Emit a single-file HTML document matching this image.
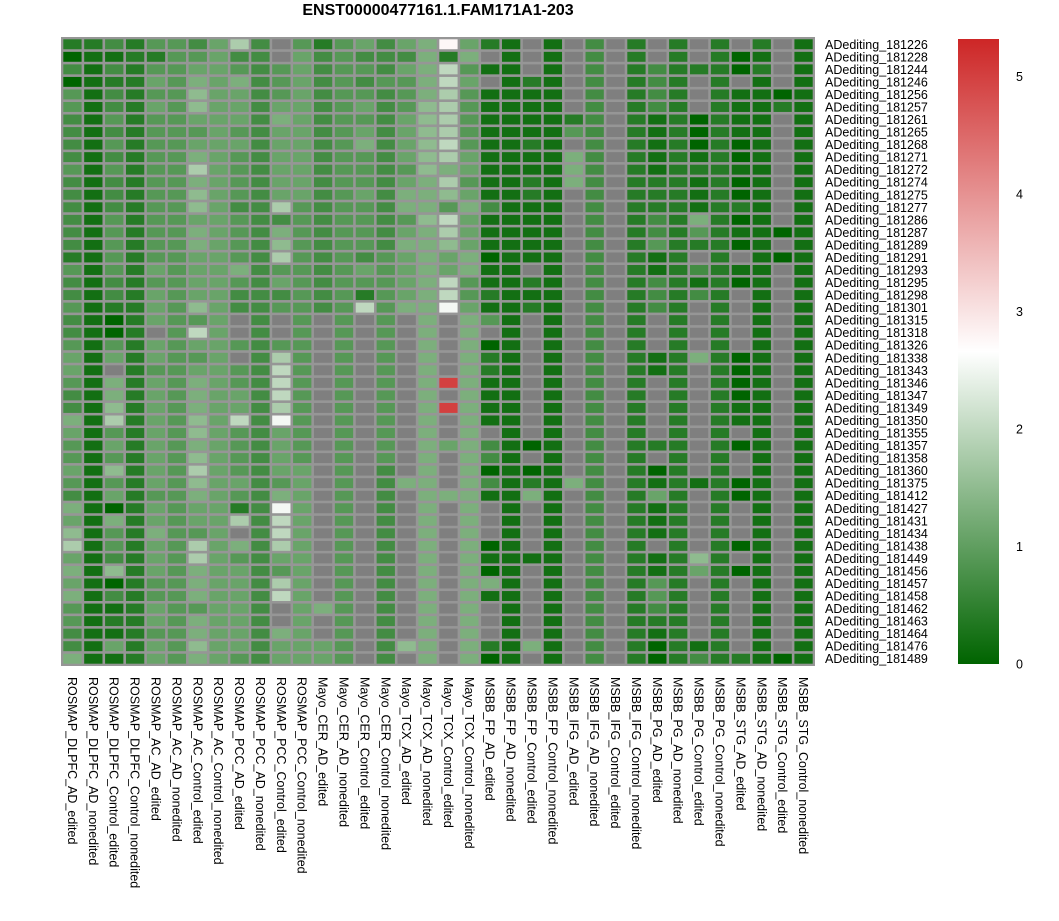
<!DOCTYPE html>
<html><head><meta charset="utf-8"><style>
body{margin:0;background:#fff;font-family:"Liberation Sans",sans-serif}
</style></head><body>
<svg id="chart" width="1059" height="916" xmlns="http://www.w3.org/2000/svg" font-family="Liberation Sans, sans-serif">
<defs><linearGradient id="lg" x1="0" y1="1" x2="0" y2="0">
<stop offset="0" stop-color="#006400"/><stop offset="0.5" stop-color="#ffffff"/><stop offset="1" stop-color="#cd2626"/></linearGradient></defs>
<text x="438" y="15" text-anchor="middle" font-size="16" font-weight="bold">ENST00000477161.1.FAM171A1-203</text>
<g id="cells"></g><g id="rowlabels"></g><g id="collabels"></g>
<rect x="958" y="39" width="41" height="625" fill="url(#lg)"/>
<g id="legendticks"></g>
</svg>
<script>
const columns=["ROSMAP_DLPFC_AD_edited","ROSMAP_DLPFC_AD_nonedited","ROSMAP_DLPFC_Control_edited","ROSMAP_DLPFC_Control_nonedited","ROSMAP_AC_AD_edited","ROSMAP_AC_AD_nonedited","ROSMAP_AC_Control_edited","ROSMAP_AC_Control_nonedited","ROSMAP_PCC_AD_edited","ROSMAP_PCC_AD_nonedited","ROSMAP_PCC_Control_edited","ROSMAP_PCC_Control_nonedited","Mayo_CER_AD_edited","Mayo_CER_AD_nonedited","Mayo_CER_Control_edited","Mayo_CER_Control_nonedited","Mayo_TCX_AD_edited","Mayo_TCX_AD_nonedited","Mayo_TCX_Control_edited","Mayo_TCX_Control_nonedited","MSBB_FP_AD_edited","MSBB_FP_AD_nonedited","MSBB_FP_Control_edited","MSBB_FP_Control_nonedited","MSBB_IFG_AD_edited","MSBB_IFG_AD_nonedited","MSBB_IFG_Control_edited","MSBB_IFG_Control_nonedited","MSBB_PG_AD_edited","MSBB_PG_AD_nonedited","MSBB_PG_Control_edited","MSBB_PG_Control_nonedited","MSBB_STG_AD_edited","MSBB_STG_AD_nonedited","MSBB_STG_Control_edited","MSBB_STG_Control_nonedited"];
const rowsNames=["181226","181228","181244","181246","181256","181257","181261","181265","181268","181271","181272","181274","181275","181277","181286","181287","181289","181291","181293","181295","181298","181301","181315","181318","181326","181338","181343","181346","181347","181349","181350","181355","181357","181358","181360","181375","181412","181427","181431","181434","181438","181449","181456","181457","181458","181462","181463","181464","181476","181489"].map(s=>"ADediting_"+s);
const legendTicks=[0,1,2,3,4,5];
const vmax=5.32;
const _=null;
const values=[
[0.4,0.4,0.7,0.4,0.9,0.9,0.7,1.1,1.8,0.7,_,0.9,0.4,0.9,1.1,0.7,1.1,1.3, 2.75,1.1,0.4,0.2,_,0.2,_,0.7,_,0.4,_,0.4,_,0.4,_,0.4,_,0.2],
[0,0.2,0.2,0.4,0.4,0.9,0.9,1.1,0.7,0.7,_,1.1,0.7,0.9,0.7,0.7,0.7,1.3, 0.4,1.3,_,0.2,_,0.2,_,0.7,_,0.4,_,0.4,_,0.4,0,0.2,_,0.2],
[0.7,0.2,0.7,0.4,0.9,0.9,1.1,1.1,0.9,0.7,0.9,1.1,0.7,0.9,0.9,0.7,1.1,1.3, 2.0,0.9,0.2,0.2,_,0.2,_,0.7,_,0.4,0.7,0.4,0.4,0.4,0,0.4,_,0.2],
[0,0.2,0.4,0.4,1.1,0.9,1.3,1.1,1.3,0.7,0.9,1.1,0.7,0.9,0.7,0.9,0.9,1.3, 2.0,1.1,_,0.2,0.4,0.2,_,0.7,_,0.4,0.7,0.4,_,0.4,_,0.2,_,0.2],
[0.9,0.2,0.7,0.4,0.9,0.9,1.5,1.1,1.1,0.7,0.9,1.1,0.7,0.9,0.9,0.7,0.9,1.3, 1.8,0.9,0.2,0.2,0.2,0.2,_,0.7,_,0.4,0.7,0.4,_,0.4,0.2,0.2,0,0.2],
[0.9,0.2,0.7,0.4,1.1,0.9,1.5,1.1,1.1,0.7,1.1,1.1,0.7,0.9,1.1,0.7,0.9,1.5, 1.8,0.9,0.2,0.2,0.2,0.2,_,0.7,_,0.4,0.7,0.4,_,0.4,0.2,0.2,0.4,0.2],
[0.7,0.2,0.9,0.4,0.9,0.9,1.1,1.1,1.1,0.7,1.3,1.1,0.7,0.9,0.9,0.7,1.1,1.5, 1.8,0.9,0.2,0.2,0.2,0.2,0.4,0.7,_,0.4,0.2,0.4,0,0.4,0.2,0.2,_,0.2],
[0.7,0.2,0.7,0.4,0.9,0.9,0.9,1.1,0.9,0.7,1.1,1.1,0.7,0.9,1.1,0.7,1.1,1.5, 1.8,0.9,0.2,0.2,0.2,0.2,0.9,0.7,_,0.4,0.2,0.4,0,0.4,0.2,0.2,_,0.2],
[0.7,0.2,0.9,0.4,0.9,0.9,1.1,1.1,1.1,0.7,1.1,1.1,0.7,0.9,1.3,0.7,1.1,1.5, 2.0,0.9,0.2,0.2,0.4,0.2,_,0.7,_,0.4,0.2,0.4,0,0.4,0,0.2,_,0.2],
[0.7,0.2,0.7,0.4,0.9,0.9,1.3,1.1,0.9,0.7,1.1,1.1,0.7,0.9,0.9,0.7,1.1,1.5, 1.8,1.1,0.2,0.2,0.2,0.2,1.3,0.7,_,0.4,0.2,0.4,0.2,0.4,0,0.2,_,0.2],
[0.9,0.2,0.9,0.4,0.9,0.9,1.8,1.1,0.9,0.7,1.1,1.1,0.7,0.9,0.9,0.7,0.9,1.5, 1.3,1.1,0.2,0.2,0.2,0.2,1.3,0.7,_,0.4,0.2,0.4,0.4,0.4,0.2,0.2,_,0.2],
[0.7,0.2,0.7,0.4,0.9,0.9,1.3,1.1,0.9,0.7,1.1,1.1,0.7,0.9,0.9,0.7,1.1,1.3, 1.8,0.9,0.2,0.2,0.4,0.2,1.3,0.7,_,0.4,0.4,0.4,0.2,0.4,0,0.2,_,0.2],
[0.7,0.2,0.7,0.4,0.9,0.9,1.5,1.1,0.9,0.7,1.1,1.1,0.7,0.9,1.1,0.7,1.3,1.3, 1.5,1.1,0.2,0.2,0.4,0.2,_,0.7,_,0.4,0.4,0.4,0.2,0.4,0,0.2,_,0.2],
[0.7,0.2,0.7,0.4,0.9,0.9,1.5,1.1,0.7,0.7,1.8,0.9,0.7,0.9,0.9,0.7,1.3,1.3, 0.9,1.3,0.7,0.2,0.2,0.2,_,0.7,_,0.4,0.4,0.4,0.2,0.4,0.4,0.2,_,0.2],
[0.7,0.2,0.9,0.4,0.9,0.9,1.1,1.1,0.9,0.7,0.7,0.9,0.7,0.9,0.9,0.7,0.9,1.5, 2.0,1.1,0.2,0.2,0.2,0.2,_,0.7,_,0.4,0.7,0.4,1.3,0.4,0,0.2,_,0.2],
[0.7,0.2,0.9,0.4,0.9,0.9,1.3,1.1,0.9,0.7,1.3,0.9,0.7,0.9,0.9,0.7,1.1,1.3, 1.8,1.1,0.2,0.2,0.2,0.2,_,0.7,_,0.4,0.7,0.4,0.9,0.4,0.2,0.2,0,0.2],
[0.7,0.2,0.9,0.4,0.9,0.9,1.3,1.1,0.9,0.7,1.5,0.9,0.7,0.9,0.9,0.7,1.3,1.3, 1.5,1.1,0.2,0.2,0.2,0.2,_,0.7,_,0.4,0.9,0.4,0.4,0.4,0,0.2,_,0.2],
[0.4,0.2,0.9,0.4,0.9,0.9,1.1,1.1,0.9,0.7,1.8,0.9,0.7,0.9,0.7,0.9,1.1,1.3, 1.1,1.3,0,0.2,0.2,0.2,_,0.7,_,0.4,0.2,0.4,_,0.4,_,0.2,0,0.2],
[0.9,0.2,0.9,0.4,1.1,0.9,1.1,1.1,1.3,0.7,0.9,0.9,0.7,0.9,1.1,0.9,1.1,1.3, 1.1,1.3,0.2,0.2,_,0.2,_,0.7,_,0.4,0.2,0.4,0.7,0.4,0.2,0.2,_,0.2],
[0.7,0.2,0.7,0.4,0.9,0.9,1.1,1.1,0.9,0.7,1.1,0.9,0.7,0.9,0.9,0.9,1.1,1.3, 2.0,0.9,0.2,0.2,0.4,0.2,_,0.7,_,0.4,0.7,0.4,0.2,0.4,0,0.2,_,0.2],
[0.7,0.2,0.7,0.4,1.1,0.9,1.1,1.1,0.7,0.7,0.7,0.9,0.7,0.9,0.4,0.9,1.1,1.3, 2.0,0.9,0.4,0.2,0.2,0.2,_,0.7,_,0.4,0.7,0.4,0.7,0.4,_,0.2,_,0.2],
[0.9,0.2,0.4,0.4,1.1,0.9,1.5,1.1,0.7,0.7,0.9,0.9,0.7,0.9,2.0,0.9,1.3,1.3, 2.55,1.1,0.2,0.2,0.4,0.2,_,0.7,_,0.4,0.7,0.4,_,0.4,_,0.2,_,0.2],
[0.7,0.2,0,0.4,1.1,0.9,0.9,1.1,_,0.7,_,0.9,_,0.9,_,0.9,_,1.3, _,1.3,0.9,0.2,_,0.2,_,0.7,_,0.4,_,0.4,_,0.4,_,0.2,_,0.2],
[0.7,0.2,0,0.4,_,0.9,2.0,1.1,_,0.7,_,0.9,_,0.9,_,0.9,_,1.3, _,1.3,_,0.2,_,0.2,_,0.7,_,0.4,_,0.4,_,0.4,_,0.2,_,0.2],
[0.9,0.2,0.9,0.4,1.1,0.9,1.1,1.1,0.9,0.7,0.9,0.9,_,0.9,_,0.9,_,1.3, _,1.3,0,0.2,_,0.2,_,0.7,_,0.4,_,0.4,_,0.4,_,0.2,_,0.2],
[1.1,0.2,1.1,0.4,1.1,0.9,0.9,1.1,_,0.7,1.8,0.9,_,0.9,_,0.9,_,1.3, _,1.3,0.4,0.2,_,0.2,_,0.7,_,0.4,0.2,0.4,1.3,0.4,0,0.2,_,0.2],
[1.1,0.2,_,0.4,0.9,0.9,1.1,1.1,0.9,0.7,2.0,0.9,_,0.9,_,0.9,_,1.3, _,1.3,0.4,0.2,_,0.2,_,0.7,_,0.4,0.2,0.4,_,0.4,0,0.2,_,0.2],
[0.9,0.2,1.3,0.4,1.1,0.9,1.3,1.1,0.9,0.7,2.0,0.9,_,0.9,_,0.9,_,1.3, 5.0,1.3,0.2,0.2,_,0.2,_,0.7,_,0.4,_,0.4,_,0.4,0,0.2,_,0.2],
[0.7,0.2,1.3,0.4,1.1,0.9,1.3,1.1,1.1,0.7,2.0,0.9,_,0.9,_,0.9,_,1.3, _,1.3,0.2,0.2,_,0.2,_,0.7,_,0.4,_,0.4,_,0.4,0,0.2,_,0.2],
[0.7,0.2,1.5,0.4,1.1,0.9,1.3,1.1,1.1,0.7,1.8,0.9,_,0.9,_,0.9,_,1.3, 5.0,1.3,0.2,0.2,_,0.2,_,0.7,_,0.4,_,0.4,_,0.4,0.2,0.2,_,0.2],
[1.3,0.2,1.8,0.4,1.1,0.9,1.5,1.1,2.0,0.7,2.55,0.9,_,0.9,_,0.9,_,1.3, _,1.3,0.2,0.2,_,0.2,_,0.7,_,0.4,_,0.4,_,0.4,0.2,0.2,_,0.2],
[1.1,0.2,0.9,0.4,1.1,0.9,1.5,1.1,0.9,0.7,1.1,0.9,_,0.9,_,0.9,_,1.3, _,1.3,_,0.2,_,0.2,_,0.7,_,0.4,_,0.4,_,0.4,_,0.2,_,0.2],
[0.9,0.2,1.1,0.4,1.1,0.9,1.3,1.1,0.9,0.7,1.1,0.9,_,0.9,_,0.9,_,1.3, 1.1,1.3,0.7,0.2,0,0.2,_,0.7,_,0.4,0.4,0.4,_,0.4,0,0.2,_,0.2],
[0.9,0.2,0.9,0.4,1.1,0.9,1.5,1.1,0.9,0.7,1.1,0.9,_,0.9,_,0.9,_,1.3, _,1.3,0.7,0.2,_,0.2,_,0.7,_,0.4,_,0.4,_,0.4,_,0.2,_,0.2],
[1.1,0.2,1.5,0.4,1.1,0.9,1.8,1.1,0.9,0.7,1.1,1.1,_,0.9,_,0.7,_,1.3, _,1.3,0,0.2,0,0.2,_,0.7,_,0.4,0,0.4,_,0.4,_,0.2,_,0.2],
[0.9,0.2,0.9,0.4,1.1,0.9,1.5,1.1,1.1,0.7,0.9,1.1,_,0.9,_,0.7,1.3,1.3, _,1.3,0.7,0.2,0.4,0.2,1.3,0.7,_,0.4,0.2,0.4,0.2,0.4,0,0.2,_,0.2],
[0.7,0.2,1.1,0.4,0.9,0.9,1.3,1.1,0.9,0.7,1.3,1.1,_,0.9,_,0.7,_,1.3, 1.3,1.3,0.2,0.2,1.3,0.2,_,0.7,_,0.4,1.1,0.4,_,0.4,0,0.2,_,0.2],
[1.3,0.2,0,0.4,1.1,0.9,1.1,1.1,0.4,0.7,2.55,1.1,_,0.9,_,0.7,_,1.3, _,1.3,_,0.2,_,0.2,_,0.7,_,0.4,0.2,0.4,_,0.4,_,0.2,_,0.2],
[1.1,0.2,1.3,0.4,1.1,0.9,1.1,1.1,1.8,0.7,2.0,1.1,_,0.9,_,0.7,_,1.3, _,1.3,_,0.2,_,0.2,_,0.7,_,0.4,0.2,0.4,_,0.4,_,0.2,_,0.2],
[1.5,0.2,0.9,0.4,1.3,0.9,0.9,1.1,_,0.7,2.0,1.1,_,0.9,_,0.7,_,1.3, _,1.3,_,0.2,_,0.2,_,0.7,_,0.4,0.2,0.4,_,0.4,_,0.2,_,0.2],
[1.8,0.2,0.9,0.4,1.1,0.9,1.8,1.1,1.3,0.7,1.8,1.1,_,0.9,_,0.7,_,1.3, _,1.3,0,0.2,_,0.2,_,0.7,_,0.4,_,0.4,_,0.4,0,0.2,_,0.2],
[1.1,0.2,0.7,0.4,1.1,0.9,1.8,1.1,0.9,0.7,1.1,1.1,_,0.9,_,0.7,_,1.3, _,1.3,0.2,0.2,0.2,0.2,_,0.7,_,0.4,0.2,0.4,1.5,0.4,_,0.2,_,0.2],
[1.3,0.2,1.5,0.4,1.1,0.9,1.3,1.1,1.1,0.7,0.9,1.1,_,0.9,_,0.7,_,1.3, _,1.3,0,0.2,_,0.2,_,0.7,_,0.4,0.2,0.4,1.1,0.4,0,0.2,_,0.2],
[1.1,0.2,0,0.4,0.9,0.9,1.3,1.1,1.1,0.7,1.8,1.1,_,0.9,_,0.7,_,1.3, _,1.3,1.3,0.2,_,0.2,_,0.7,_,0.4,0.9,0.4,_,0.4,_,0.2,_,0.2],
[1.3,0.2,0.7,0.4,0.9,0.9,1.3,1.1,1.1,0.7,2.0,1.1,_,0.9,_,0.7,_,1.3, _,1.3,0.2,0.2,_,0.2,_,0.7,_,0.4,0.9,0.4,_,0.4,_,0.2,_,0.2],
[0.9,0.2,0.2,0.4,1.1,0.9,0.9,1.1,1.1,0.7,_,1.1,1.3,0.9,_,0.7,_,1.3, _,1.3,_,0.2,_,0.2,_,0.7,_,0.4,0.7,0.4,_,0.4,_,0.2,_,0.2],
[0.9,0.2,0.4,0.4,1.1,0.9,1.3,1.1,1.1,0.7,_,1.1,_,0.9,_,0.7,_,1.3, _,1.3,_,0.2,_,0.2,_,0.7,_,0.4,0.4,0.4,_,0.4,_,0.2,_,0.2],
[0.7,0.2,0.2,0.4,0.9,0.9,1.3,1.1,1.1,0.7,1.3,1.1,_,0.9,_,0.7,_,1.3, _,1.3,_,0.2,_,0.2,_,0.7,_,0.4,0.2,0.4,_,0.4,_,0.2,_,0.2],
[0.7,0.2,1.1,0.4,1.1,0.9,1.5,1.1,1.1,0.7,1.1,1.1,1.1,0.9,_,0.7,1.5,1.3, _,1.3,0.4,0.2,1.3,0.2,_,0.7,_,0.4,0,0.4,0.2,0.4,_,0.2,_,0.2],
[1.3,0.2,0.2,0.4,1.1,0.9,1.3,1.1,0.9,0.7,1.1,1.1,1.1,0.9,_,0.7,_,1.3, _,1.3,0,0.2,_,0.2,_,0.7,_,0.4,0,0.4,0.7,0.4,0.4,0.2,0,0.2]
];
const NS="http://www.w3.org/2000/svg";
const X0=62,X1=814,Y0=38,Y1=665;
const cw=(X1-X0)/columns.length, ch=(Y1-Y0)/rowsNames.length;
const xPos=i=>X0+i*cw, yPos=j=>Y0+j*ch;
function color(v){
  if(v===null) return "#7f7f7f";
  const mid=vmax/2;
  let r,g,b;
  if(v<=mid){const t=Math.max(0,v/mid);r=255*t;g=100+155*t;b=255*t;}
  else{const t=Math.min(1,(v-mid)/(vmax-mid));r=255-50*t;g=255-217*t;b=255-217*t;}
  return `rgb(${r|0},${g|0},${b|0})`;
}
const cells=document.getElementById('cells');
const bg=document.createElementNS(NS,'rect');


bg.setAttribute('x',X0-1);bg.setAttribute('y',Y0-1);bg.setAttribute('width',X1-X0+2);bg.setAttribute('height',Y1-Y0+2);bg.setAttribute('fill','#969696');
cells.appendChild(bg);
values.forEach((row,j)=>row.forEach((v,i)=>{
  const r=document.createElementNS(NS,'rect');
  
  
  r.setAttribute('x',(xPos(i)+1.3).toFixed(2));r.setAttribute('y',(yPos(j)+1.3).toFixed(2));
  r.setAttribute('width',(cw-2.6).toFixed(2));r.setAttribute('height',(ch-2.6).toFixed(2));
  r.setAttribute('fill',color(v));
  cells.appendChild(r);
}));
const rl=document.getElementById('rowlabels');
rowsNames.forEach((n,j)=>{
  const t=document.createElementNS(NS,'text');
  
  
  t.setAttribute('x',825);t.setAttribute('y',(yPos(j)+ch/2+4.5).toFixed(2));t.setAttribute('font-size','12.5');
  t.textContent=n;rl.appendChild(t);
});
const cl=document.getElementById('collabels');
columns.forEach((n,i)=>{
  const t=document.createElementNS(NS,'text');
  
  
  const x=xPos(i)+cw/2-4.5,y=677;
  t.setAttribute('transform',`translate(${x.toFixed(2)},${y}) rotate(90)`);
  t.setAttribute('font-size','12.5');
  t.textContent=n;cl.appendChild(t);
});
const lt=document.getElementById('legendticks');
legendTicks.forEach(v=>{
  const t=document.createElementNS(NS,'text');
  
  
  t.setAttribute('x',1016);t.setAttribute('y',(664-v*(625/vmax)+4.5).toFixed(2));t.setAttribute('font-size','12.5');
  t.textContent=v;lt.appendChild(t);
});
</script>
</body></html>
